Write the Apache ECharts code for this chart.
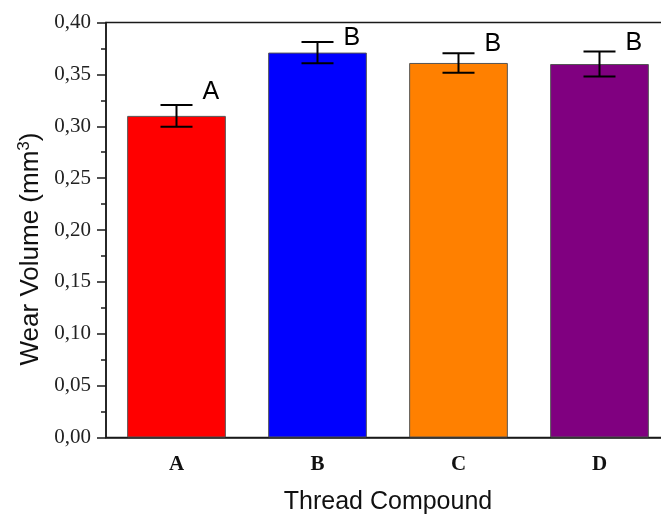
<!DOCTYPE html>
<html>
<head>
<meta charset="utf-8">
<script src="https://cdn.jsdelivr.net/npm/echarts@6/dist/echarts.min.js"></script>
<style>
html,body{margin:0;padding:0;background:#fff;overflow:hidden;}
#chart{width:670px;height:515px;}
</style>
</head>
<body>
<div id="chart"></div>
<script>
// Data
const categories = ['A', 'B', 'C', 'D'];
const wearVolume = [0.310, 0.371, 0.361, 0.360];
const stdDev = [0.0105, 0.0102, 0.0094, 0.0120];
const groupLetters = ['A', 'B', 'B', 'B'];
const letterLevel = [0.3255, 0.3775, 0.3720, 0.3730];
const barColors = ['#FF0000', '#0000FF', '#FF8000', '#800080'];
const yTicks = { min: 0, max: 0.40, interval: 0.05 };

const axisColor = '#1a1a1a';

const barData = wearVolume.map((v, i) => ({
  value: v,
  itemStyle: { color: barColors[i] }
}));
const errData = wearVolume.map((v, i) => [i, v + stdDev[i], v - stdDev[i], letterLevel[i]]);

const chart = echarts.init(document.getElementById('chart'));
chart.setOption({
  animation: false,
  backgroundColor: '#fff',
  grid: {
    left: 106, right: 0, top: 22.5, bottom: 77.5,
    outerBoundsMode: 'none',
    containLabel: false,
    show: true, borderColor: axisColor, borderWidth: 1.5, backgroundColor: 'transparent'
  },
  xAxis: [
    {
      type: 'category',
      data: categories,
      position: 'bottom',
      name: 'Thread Compound',
      nameLocation: 'middle',
      nameGap: 52,
      nameTextStyle: { fontFamily: 'Liberation Sans', fontSize: 25, color: '#111' },
      axisLine: { lineStyle: { color: axisColor, width: 1.5 } },
      axisTick: { alignWithLabel: true, length: 9, lineStyle: { color: axisColor, width: 1.5 } },
      axisLabel: { margin: 17, fontFamily: 'Liberation Serif', fontWeight: 'bold', fontSize: 21, color: '#111' },
      splitLine: { show: false }
    },
    {
      type: 'category',
      data: categories,
      position: 'bottom',
      axisLine: { show: false },
      axisTick: { alignWithLabel: false, length: 5, lineStyle: { color: axisColor, width: 1.5 } },
      axisLabel: { show: false },
      splitLine: { show: false }
    }
  ],
  yAxis: {
    type: 'value',
    min: yTicks.min, max: yTicks.max, interval: yTicks.interval,
    name: 'Wear Volume (mm{sup|3})',
    nameLocation: 'middle',
    nameGap: 56,
    nameTextStyle: {
      fontFamily: 'Liberation Sans', fontSize: 26, color: '#111',
      padding: [0, 38, 0, 0],
      rich: { sup: { fontFamily: 'Liberation Sans', fontSize: 17, color: '#111', verticalAlign: 'top', padding: [0, 0, 12, 0] } }
    },
    axisLine: { show: true, lineStyle: { color: axisColor, width: 1.5 } },
    axisTick: { show: true, length: 9, lineStyle: { color: axisColor, width: 1.5 } },
    minorTick: { show: true, splitNumber: 2, length: 5, lineStyle: { color: axisColor, width: 1.5 } },
    axisLabel: {
      margin: 15, fontFamily: 'Liberation Serif', fontSize: 21, color: '#222',
      formatter: v => v.toFixed(2).replace('.', ',')
    },
    splitLine: { show: false }
  },
  series: [
    {
      type: 'bar',
      data: barData,
      barWidth: '70%',
      itemStyle: { borderColor: '#555', borderWidth: 1 },
      z: 2
    },
    {
      type: 'custom',
      data: errData,
      z: 5,
      renderItem: function (params, api) {
        const x = api.value(0);
        const top = api.coord([x, api.value(1)]);
        const bot = api.coord([x, api.value(2)]);
        const lab = api.coord([x, api.value(3)]);
        const half = 16;
        const ls = { stroke: '#000', lineWidth: 2 };
        return {
          type: 'group',
          children: [
            { type: 'line', shape: { x1: top[0], y1: top[1], x2: bot[0], y2: bot[1] }, style: ls },
            { type: 'line', shape: { x1: top[0] - half, y1: top[1], x2: top[0] + half, y2: top[1] }, style: ls },
            { type: 'line', shape: { x1: bot[0] - half, y1: bot[1], x2: bot[0] + half, y2: bot[1] }, style: ls },
            {
              type: 'text',
              x: top[0] + 26, y: lab[1] + 5,
              style: {
                text: groupLetters[params.dataIndex],
                fontFamily: 'Liberation Sans', fontSize: 25, fill: '#000',
                align: 'left', verticalAlign: 'bottom'
              }
            }
          ]
        };
      }
    }
  ]
});
</script>
</body>
</html>
